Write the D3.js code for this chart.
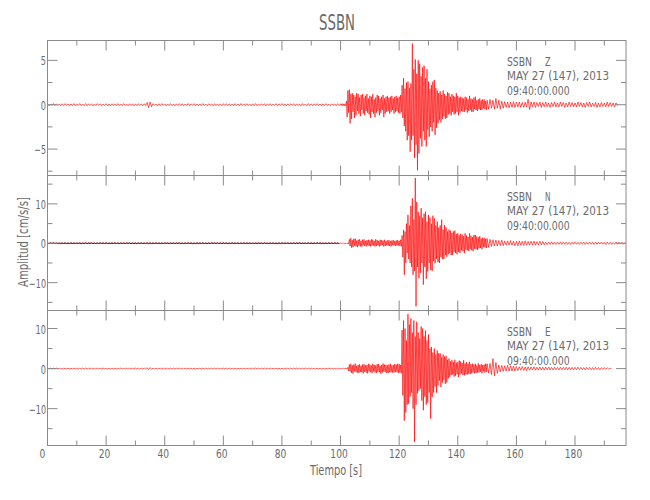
<!DOCTYPE html>
<html><head><meta charset="utf-8">
<script src="https://cdn.jsdelivr.net/npm/d3@7"></script>
<style>
body{margin:0;background:#fff}
svg{display:block}
text{font-family:"Liberation Sans Narrow","DejaVu Sans Condensed","DejaVu Sans",sans-serif;fill:#6a6a6a}
</style>
</head><body>
<svg id="chart" width="650" height="500"></svg>
<script>
// ---------------- DATA ----------------
const stationName = "SSBN";
const components = ["Z", "N", "E"];
const dateLabel = "MAY 27 (147), 2013";
const timeLabel = "09:40:00.000";
const xTitle = "Tiempo [s]";
const yTitle = "Amplitud [cm/s/s]";

const timeDomain = [0, 197.4];
const xMajorTicks = [0, 20, 40, 60, 80, 100, 120, 140, 160, 180];
const xMinorTicks = [10, 30, 50, 70, 90, 110, 130, 150, 170, 190];

const zDomain = [-7.98, 7.24];
const nDomain = [-17.06, 17.2];
const eDomain = [-19.2, 14.5];
const zMajor = [-5, 0, 5];
const zMinor = [-7.5, -2.5, 2.5];
const nMajor = [-10, 0, 10];
const nMinor = [-15, -5, 5, 15];
const eMajor = [-10, 0, 10];
const eMinor = [-15, -5, 5];

// pre-event noise: alternating extremes every 0.5 s from t = 0 s
const preStart = 0, preStep = 0.5;
const zPre = [
 0.1,-0.12,0.08,-0.1,0.13,-0.09,0.1,-0.11,0.09,-0.12,0.11,-0.1,0.12,-0.08,0.1,-0.13,0.09,-0.1,0.12,-0.11,
 0.1,-0.09,0.13,-0.11,0.08,-0.1,0.12,-0.12,0.1,-0.08,0.11,-0.13,0.09,-0.1,0.12,-0.09,0.1,-0.12,0.08,-0.11,
 0.12,-0.1,0.09,-0.13,0.11,-0.08,0.1,-0.12,0.13,-0.1,0.09,-0.11,0.12,-0.1,0.08,-0.12,0.11,-0.09,0.1,-0.13,
 0.1,-0.11,0.12,-0.09,0.1,-0.13,0.11,-0.1,0.25,-0.35,0.3,-0.22,0.12,-0.1,0.09,-0.12,0.11,-0.1,0.13,-0.08,
 0.1,-0.12,0.09,-0.1,0.12,-0.11,0.08,-0.13,0.1,-0.09,0.12,-0.1,0.11,-0.12,0.09,-0.1,0.13,-0.11,0.1,-0.08,
 0.12,-0.1,0.1,-0.12,0.09,-0.11,0.13,-0.1,0.08,-0.12,0.11,-0.09,0.1,-0.13,0.12,-0.1,0.09,-0.11,0.1,-0.12,
 0.11,-0.09,0.12,-0.1,0.1,-0.13,0.09,-0.11,0.12,-0.1,0.08,-0.12,0.13,-0.09,0.1,-0.11,0.11,-0.1,0.09,-0.12,
 0.1,-0.11,0.13,-0.12,0.09,-0.1,0.11,-0.08,0.12,-0.13,0.1,-0.09,0.11,-0.12,0.08,-0.1,0.12,-0.11,0.1,-0.09,
 0.13,-0.1,0.09,-0.12,0.1,-0.11,0.12,-0.09,0.11,-0.13,0.1,-0.1,0.08,-0.12,0.12,-0.1,0.09,-0.11,0.13,-0.1,
 0.1,-0.12,0.11,-0.09,0.12,-0.1,0.09,-0.13,0.1,-0.11,0.12,-0.1,0.08,-0.12,0.11,-0.09,0.1,-0.12,0.12,-0.1
];
const nPre = [
 0.06,-0.08,0.07,-0.06,0.09,-0.07,0.06,-0.08,0.07,-0.09,0.08,-0.06,0.07,-0.08,0.06,-0.07,0.09,-0.06,0.08,-0.07,
 0.07,-0.06,0.08,-0.09,0.06,-0.07,0.09,-0.08,0.07,-0.06,0.08,-0.07,0.06,-0.09,0.07,-0.08,0.09,-0.06,0.07,-0.07,
 0.08,-0.07,0.06,-0.08,0.07,-0.06,0.09,-0.07,0.08,-0.09,0.06,-0.07,0.07,-0.08,0.09,-0.06,0.07,-0.08,0.06,-0.07,
 0.07,-0.09,0.08,-0.06,0.07,-0.07,0.06,-0.08,0.1,-0.1,0.09,-0.08,0.07,-0.06,0.08,-0.07,0.06,-0.09,0.07,-0.08,
 0.09,-0.06,0.07,-0.08,0.06,-0.07,0.08,-0.09,0.07,-0.06,0.09,-0.07,0.06,-0.08,0.07,-0.07,0.08,-0.06,0.07,-0.09,
 0.06,-0.07,0.09,-0.08,0.07,-0.06,0.08,-0.07,0.06,-0.09,0.07,-0.08,0.09,-0.06,0.07,-0.07,0.08,-0.08,0.06,-0.07,
 0.08,-0.06,0.07,-0.09,0.06,-0.07,0.09,-0.08,0.07,-0.06,0.08,-0.07,0.06,-0.08,0.09,-0.07,0.07,-0.06,0.08,-0.09,
 0.07,-0.08,0.06,-0.07,0.08,-0.06,0.07,-0.09,0.09,-0.07,0.06,-0.08,0.07,-0.06,0.08,-0.07,0.06,-0.09,0.07,-0.08,
 0.09,-0.07,0.08,-0.06,0.07,-0.08,0.06,-0.07,0.08,-0.09,0.07,-0.06,0.09,-0.08,0.06,-0.07,0.07,-0.08,0.08,-0.06,
 0.06,-0.08,0.07,-0.07,0.09,-0.06,0.08,-0.09,0.07,-0.08,0.06,-0.07,0.08,-0.06,0.07,-0.09,0.09,-0.07,0.06,-0.08
];
const ePre = [
 0.1,-0.09,0.11,-0.1,0.08,-0.1,0.12,-0.09,0.1,-0.11,0.09,-0.1,0.11,-0.08,0.1,-0.12,0.09,-0.1,0.11,-0.1,
 0.1,-0.11,0.09,-0.1,0.12,-0.09,0.1,-0.11,0.08,-0.1,0.11,-0.1,0.09,-0.12,0.1,-0.09,0.11,-0.1,0.12,-0.11,
 0.09,-0.1,0.1,-0.12,0.11,-0.09,0.1,-0.1,0.08,-0.11,0.12,-0.1,0.09,-0.1,0.11,-0.12,0.1,-0.09,0.1,-0.11,
 0.11,-0.1,0.09,-0.12,0.1,-0.09,0.12,-0.1,0.22,-0.28,0.25,-0.18,0.1,-0.11,0.09,-0.1,0.12,-0.09,0.1,-0.1,
 0.11,-0.1,0.08,-0.11,0.1,-0.09,0.12,-0.1,0.09,-0.1,0.1,-0.11,0.09,-0.1,0.12,-0.1,0.1,-0.09,0.11,-0.12,
 0.1,-0.11,0.09,-0.1,0.12,-0.1,0.1,-0.09,0.11,-0.1,0.09,-0.12,0.1,-0.1,0.11,-0.09,0.1,-0.11,0.08,-0.1,
 0.11,-0.1,0.09,-0.1,0.12,-0.11,0.1,-0.09,0.1,-0.1,0.1,-0.09,0.11,-0.1,0.09,-0.12,0.1,-0.1,0.11,-0.09,
 0.1,-0.1,0.12,-0.09,0.1,-0.11,0.09,-0.1,0.11,-0.12,0.1,-0.1,0.12,-0.09,0.1,-0.11,0.09,-0.1,0.1,-0.12,
 0.09,-0.1,0.11,-0.1,0.1,-0.12,0.12,-0.09,0.1,-0.1,0.11,-0.11,0.09,-0.1,0.1,-0.09,0.12,-0.1,0.1,-0.11,
 0.11,-0.09,0.1,-0.1,0.09,-0.12,0.1,-0.1,0.12,-0.11,0.1,-0.09,0.11,-0.1,0.1,-0.12,0.09,-0.1,0.1,-0.1
];

// event: alternating extremes every 0.25 s from t = 100 s
const mainStart = 100, mainStep = 0.25;
const zMain = [
 0.1,-0.08,0.12,-0.1, 0.09,-0.12,0.1,-0.1, 0.4,-1.4,1.6,-0.9, 1.7,-2.1,1.2,-1.6, 1.3,-0.8,1.1,-1.5,
 0.9,-1.2,1.3,-0.7, 1.2,-1.0,0.8,-1.3, 1.1,-0.6,1.2,-1.0, 0.8,-1.2,1.0,-0.7, 1.2,-0.9,0.7,-1.1,
 1.0,-1.5,0.9,-0.8, 1.2,-1.0,0.6,-1.4, 0.8,-0.9,1.1,-0.7, 1.0,-1.2,0.7,-0.9, 0.9,-0.6,1.1,-1.4,
 0.7,-1.0,0.9,-0.8, 1.0,-0.7,0.8,-1.0, 0.9,-0.8,1.0,-0.6, 0.7,-1.0,0.9,-0.8, 1.0,-0.7,0.8,-0.9,
 0.9,-1.0,1.1,-0.8, 2.2,-1.5,3.0,-2.4, 1.8,-3.0,2.5,-4.0, 2.6,-3.5,1.9,-5.3, 2.4,-4.0,6.9,-3.5,
 4.0,-6.0,5.1,-4.5, 3.5,-7.4,5.0,-5.5, 4.6,-3.8,3.2,-4.7, 4.2,-3.0,4.4,-4.0, 3.0,-4.7,4.0,-2.8,
 2.6,-3.6,1.8,-2.5, 2.2,-3.0,2.6,-2.0, 2.8,-3.4,1.9,-2.6, 1.6,-2.1,1.3,-1.7, 1.5,-2.0,1.1,-1.6,
 1.6,-1.3,1.2,-1.6, 1.0,-1.5,1.4,-1.1, 1.3,-1.0,0.9,-1.2, 1.2,-0.8,1.0,-1.1, 0.9,-1.0,1.3,-0.8,
 1.0,-1.2,0.8,-0.9, 0.9,-0.7,0.8,-0.8, 0.7,-0.8,0.9,-0.6, 0.8,-0.9,0.6,-0.7, 1.0,-0.6,0.7,-0.8,
 0.6,-0.8,0.8,-0.5, 0.9,-0.6,0.5,-0.7, 0.6,-0.5,0.7,-0.6, 0.5,-0.6,0.6,-0.4, 0.6,-0.5,0.4,-0.6
];
const nMain = [
 0.08,-0.1,0.1,-0.08, 0.1,-0.09,0.08,-0.1, 0.09,-0.1,0.1,-0.2, 1.0,-0.7,1.3,-1.1, 0.8,-1.0,1.1,-0.6,
 1.2,-0.8,0.7,-1.0, 0.9,-0.6,1.0,-0.8, 0.6,-0.85,0.9,-0.5, 1.0,-0.7,0.6,-0.8, 0.8,-0.5,0.9,-0.7,
 0.7,-0.8,1.0,-0.6, 0.9,-0.6,0.6,-0.8, 1.0,-0.7,0.8,-0.5, 0.6,-0.8,0.9,-0.6, 0.8,-0.5,0.7,-0.8,
 0.9,-0.7,0.6,-0.5, 0.7,-0.6,0.8,-0.7, 0.6,-0.8,0.7,-0.5, 0.8,-0.5,0.6,-0.7, 0.7,-0.6,0.8,-0.6,
 0.6,-0.7,0.9,-0.8, 2.0,-3.5,3.4,-8.0, 3.0,-5.0,5.0,-2.5, 7.2,-4.0,4.5,-5.0, 9.5,-6.0,11.4,-8.0,
 6.0,-7.0,16.6,-16.0, 10.5,-6.0,8.0,-8.9, 7.0,-7.5,8.9,-5.0, 6.5,-10.5,7.5,-6.0, 8.0,-9.0,5.5,-7.2,
 7.2,-5.0,6.5,-6.8, 5.0,-7.0,7.0,-4.5, 6.3,-5.1,4.5,-4.0, 5.5,-4.8,4.0,-5.0, 4.5,-3.5,6.0,-4.0,
 3.5,-4.0,4.6,-3.0, 4.0,-3.4,3.0,-2.8, 3.5,-2.5,3.2,-3.0, 2.6,-3.0,3.0,-2.2, 3.2,-2.5,2.4,-2.8,
 2.5,-2.2,2.0,-2.5, 2.4,-1.8,2.2,-2.0, 1.8,-2.5,2.5,-1.6, 2.0,-1.8,1.6,-2.0, 2.5,-1.5,1.9,-1.8,
 1.6,-2.0,2.1,-1.4, 2.1,-1.5,1.7,-1.7, 1.5,-1.3,1.8,-1.2, 1.2,-1.5,1.4,-1.0, 1.4,-1.0,1.1,-1.2
];
const eMain = [
 0.1,-0.08,0.09,-0.1, 0.08,-0.1,0.1,-0.09, 0.1,-0.1,0.3,-0.6, 1.0,-0.7,1.2,-1.1, 0.8,-1.25,1.0,-0.7,
 1.25,-0.9,0.7,-1.0, 0.9,-1.1,1.1,-0.8, 0.7,-0.9,1.0,-1.2, 1.1,-0.8,0.8,-1.0, 0.9,-1.2,1.2,-0.7,
 1.0,-0.9,0.8,-1.1, 1.2,-0.7,0.9,-1.0, 0.8,-1.1,1.1,-0.8, 1.1,-0.9,0.7,-1.25, 0.9,-1.0,1.25,-0.8,
 1.0,-0.8,0.9,-1.1, 0.8,-1.1,1.0,-0.9, 1.2,-0.9,0.8,-1.0, 0.9,-1.0,1.1,-0.8, 1.0,-0.9,1.2,-1.1,
 1.1,-1.0,0.9,-1.2, 9.6,-6.7,12.0,-13.0, 10.0,-11.0,7.0,-9.0, 13.6,-8.8,11.0,-7.0, 12.5,-6.0,9.0,-10.0,
 12.0,-18.3,8.0,-9.0, 11.7,-6.2,9.0,-5.5, 7.5,-5.0,10.5,-8.0, 10.0,-10.4,8.0,-7.0, 9.5,-9.0,7.0,-8.5,
 8.5,-6.0,5.0,-12.5, 5.4,-7.1,4.0,-6.0, 5.0,-4.5,3.5,-6.0, 4.5,-4.2,3.8,-3.0, 3.8,-4.6,2.8,-3.5,
 3.5,-2.8,3.0,-3.8, 3.2,-3.5,2.2,-2.5, 2.5,-2.1,1.8,-1.6, 2.1,-1.5,1.6,-2.0, 2.2,-1.8,1.5,-1.4,
 1.6,-2.1,2.0,-1.5, 1.8,-1.2,1.4,-1.6, 2.1,-1.7,1.3,-1.4, 1.6,-1.5,1.2,-1.3, 1.7,-1.4,1.1,-1.2,
 1.25,-0.9,1.0,-1.2, 1.2,-1.1,0.8,-1.0, 1.3,-1.0,0.9,-0.8, 1.1,-1.2,0.9,-0.7, 1.0,-1.0,1.2,-0.8
];

// coda: alternating extremes every 0.5 s from t = 150 s
const tailStart = 150, tailStep = 0.5;
const zTail = [
 0.5,-0.5,0.6,-0.4,0.5,-0.5,0.7,-0.4,0.5,-0.5,0.4,-0.4,0.35,-0.3,0.3,-0.35,0.3,-0.3,0.35,-0.3,
 0.3,-0.25,0.3,-0.3,0.25,-0.3,0.3,-0.25,0.6,-0.55,0.3,-0.25,0.3,-0.3,0.25,-0.2,0.3,-0.3,0.25,-0.25,
 0.3,-0.25,0.2,-0.3,0.25,-0.2,0.3,-0.25,0.2,-0.25,0.3,-0.2,0.25,-0.3,0.2,-0.25,0.3,-0.2,0.25,-0.25,
 0.2,-0.25,0.3,-0.2,0.25,-0.25,0.2,-0.3,0.25,-0.2,0.3,-0.25,0.2,-0.2,0.25,-0.3,0.2,-0.25,0.25,-0.2,
 0.2,-0.25,0.3,-0.2,0.25,-0.2,0.2,-0.25,0.2,-0.1
];
const nTail = [
 1.2,-1.0,1.0,-0.8,0.9,-0.7,0.8,-0.7,0.7,-0.6,0.8,-0.6,0.6,-0.5,0.6,-0.5,0.7,-0.5,0.5,-0.6,
 0.5,-0.6,0.6,-0.5,0.5,-0.55,0.6,-0.5,0.45,-0.5,0.5,-0.45,0.55,-0.5,0.4,-0.45,0.5,-0.4,0.45,-0.4,
 0.3,-0.35,0.3,-0.3,0.35,-0.3,0.25,-0.3,0.3,-0.25,0.35,-0.3,0.3,-0.25,0.3,-0.3,0.25,-0.3,0.3,-0.25,
 0.3,-0.25,0.25,-0.3,0.3,-0.25,0.3,-0.3,0.25,-0.25,0.3,-0.25,0.25,-0.3,0.3,-0.25,0.25,-0.2,0.3,-0.25,
 0.25,-0.3,0.3,-0.25,0.25,-0.3,0.2,-0.25,0.3,-0.25,0.25,-0.2,0.25,-0.25,0.2
];
const eTail = [
 1.2,-1.1,1.3,-1.5,2.5,-1.8,1.5,-1.2,0.9,-0.8,0.8,-0.7,0.7,-0.6,0.8,-0.6,0.7,-0.6,0.6,-0.6,
 0.5,-0.5,0.45,-0.4,0.5,-0.45,0.4,-0.5,0.45,-0.4,0.4,-0.35,0.45,-0.4,0.35,-0.4,0.4,-0.35,0.35,-0.4,
 0.35,-0.3,0.4,-0.35,0.3,-0.35,0.35,-0.3,0.3,-0.35,0.35,-0.3,0.3,-0.3,0.35,-0.3,0.3,-0.35,0.3,-0.3,
 0.3,-0.3,0.35,-0.25,0.3,-0.3,0.25,-0.3,0.3,-0.25,0.3,-0.3,0.25,-0.25,0.3,-0.25,0.25,-0.3,0.25,-0.2,
 0.25,-0.2,0.2,-0.15,0.1,-0.05
];

// ---------------- LAYOUT ----------------
const W = 650, H = 500;
const L = 47.5, R = 626;
const panelTops = [40.5, 175.5, 310.5];
const panelH = 135;
const axisColor = "#8a8a8a";
const textColor = "#6a6a6a";
const traceColor = "#ff0000";

const panels = [
  {comp: components[0], dom: zDomain, major: zMajor, minor: zMinor, pre: zPre, main: zMain, tail: zTail, darkPre: false},
  {comp: components[1], dom: nDomain, major: nMajor, minor: nMinor, pre: nPre, main: nMain, tail: nTail, darkPre: true},
  {comp: components[2], dom: eDomain, major: eMajor, minor: eMinor, pre: ePre, main: eMain, tail: eTail, darkPre: false}
];

const svg = d3.select("#chart");
svg.append("rect").attr("width", W).attr("height", H).attr("fill", "#fff");

const x = d3.scaleLinear().domain(timeDomain).range([L, R]);

function labelLen(s, per) {
  let n = 0;
  for (const c of s) n += (c === "\u2212" || c === "-") ? 6.5 : per;
  return n;
}
const fmt = d => (d < 0 ? "\u2212" : "") + Math.abs(d);

// title
svg.append("text").attr("x", 337).attr("y", 30).attr("text-anchor", "middle")
  .attr("font-size", 21).attr("textLength", 36).attr("lengthAdjust", "spacingAndGlyphs")
  .style("fill", textColor).text(stationName);

panels.forEach((p, i) => {
  const top = panelTops[i], bot = top + panelH;
  const y = d3.scaleLinear().domain(p.dom).range([bot, top]);
  const g = svg.append("g");

  const clipId = "clip" + i;
  svg.append("clipPath").attr("id", clipId).append("rect")
    .attr("x", L).attr("y", top).attr("width", R - L).attr("height", panelH);

  // trace
  const prePts = p.pre.map((v, k) => [preStart + k * preStep, v]);
  const pts = prePts
    .concat(p.main.map((v, k) => [mainStart + k * mainStep, v]))
    .concat(p.tail.map((v, k) => [tailStart + k * tailStep, v]));
  const line = d3.line().x(d => x(d[0])).y(d => y(d[1]));
  const tg = g.append("g").attr("clip-path", `url(#${clipId})`);
  if (p.darkPre) {
    tg.append("path").datum(prePts).attr("d", line).attr("fill", "none")
      .attr("stroke", "#000").attr("stroke-width", 1);
  }
  tg.append("path").datum(pts).attr("d", line).attr("fill", "none")
    .attr("stroke", traceColor).attr("stroke-width", 0.65)
    .attr("stroke-linejoin", "round");

  // frame
  g.append("rect").attr("x", L).attr("y", top).attr("width", R - L).attr("height", panelH)
    .attr("fill", "none").attr("stroke", axisColor).attr("stroke-width", 1);

  const tk = g.append("g").attr("stroke", axisColor).attr("stroke-width", 1);
  const xt = xMajorTicks.map(t => [t, 10]).concat(xMinorTicks.map(t => [t, 5]));
  xt.forEach(([t, len]) => {
    tk.append("line").attr("x1", x(t)).attr("x2", x(t)).attr("y1", top).attr("y2", top + len);
    tk.append("line").attr("x1", x(t)).attr("x2", x(t)).attr("y1", bot).attr("y2", bot - len);
  });
  const yt = p.major.map(v => [v, 10]).concat(p.minor.map(v => [v, 5]));
  yt.forEach(([v, len]) => {
    tk.append("line").attr("x1", L).attr("x2", L + len).attr("y1", y(v)).attr("y2", y(v));
    tk.append("line").attr("x1", R).attr("x2", R - len).attr("y1", y(v)).attr("y2", y(v));
  });

  // y labels
  g.selectAll(".yl").data(p.major).enter().append("text")
    .attr("x", L - 1.5).attr("y", d => y(d) + 5).attr("text-anchor", "end")
    .attr("font-size", 12.5)
    .attr("textLength", d => labelLen(fmt(d), 5.2)).attr("lengthAdjust", "spacingAndGlyphs")
    .style("fill", textColor).text(fmt);

  // annotation
  const ax = 507, ay = top + 25.4;
  const fs = 12.2;
  g.append("text").attr("x", ax).attr("y", ay).attr("font-size", fs)
    .attr("textLength", 25).attr("lengthAdjust", "spacingAndGlyphs").style("fill", textColor).text(stationName);
  g.append("text").attr("x", 545).attr("y", ay).attr("font-size", fs)
    .attr("textLength", 5.5).attr("lengthAdjust", "spacingAndGlyphs").style("fill", textColor).text(p.comp);
  g.append("text").attr("x", ax).attr("y", ay + 14.3).attr("font-size", fs)
    .attr("textLength", 102).attr("lengthAdjust", "spacingAndGlyphs").style("fill", textColor).text(dateLabel);
  g.append("text").attr("x", ax).attr("y", ay + 28.6).attr("font-size", fs)
    .attr("textLength", 62.6).attr("lengthAdjust", "spacingAndGlyphs").style("fill", textColor).text(timeLabel);

  if (i === panels.length - 1) {
    g.selectAll(".xl").data(xMajorTicks).enter().append("text")
      .attr("x", d => x(d) - (d === 0 ? 5 : 1.5)).attr("y", bot + 12).attr("text-anchor", "middle")
      .attr("font-size", 12.5)
      .attr("textLength", d => labelLen(String(d), 5.8)).attr("lengthAdjust", "spacingAndGlyphs")
      .style("fill", textColor).text(d => d);
  }
});

// axis titles
svg.append("text").attr("x", 336).attr("y", 475).attr("text-anchor", "middle")
  .attr("font-size", 13.5).attr("textLength", 52).attr("lengthAdjust", "spacingAndGlyphs")
  .style("fill", textColor).text(xTitle);
svg.append("text").attr("transform", "translate(27.5,242) rotate(-90)")
  .attr("text-anchor", "middle").attr("font-size", 13.5)
  .attr("textLength", 90).attr("lengthAdjust", "spacingAndGlyphs")
  .style("fill", textColor).text(yTitle);
</script>
</body></html>
